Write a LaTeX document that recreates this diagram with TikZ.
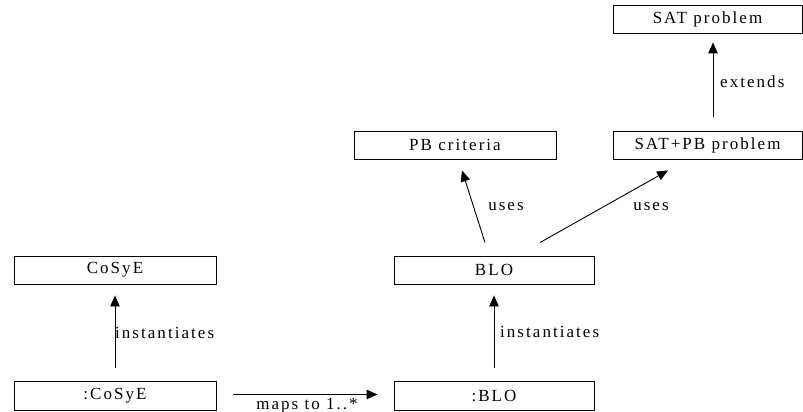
\documentclass[tikz,border=0pt]{standalone}
\usepackage{fontspec}
\setmainfont{Liberation Serif}[LetterSpace=12]
\usetikzlibrary{arrows.meta}
\begin{document}
\begin{tikzpicture}[x=1pt,y=-1pt,
  box/.style={draw,line width=0.9pt,minimum height=28pt,inner sep=0pt,font=\fontsize{17}{20}\selectfont},
  lbl/.style={inner sep=0pt,font=\fontsize{17}{20}\selectfont},
  conn/.style={line width=0.9pt,-{Triangle[length=11pt,width=9.5pt]}}]
\useasboundingbox (0,0) rectangle (803,412);
\node[box,minimum width=202pt] (cosye) at (115,270) {CoSyE};
\node[box,minimum width=202pt,minimum height=29pt] (icosye) at (115,395.5) {:CoSyE};
\node[box,minimum width=200pt] (blo) at (494,270) {BLO};
\node[box,minimum width=200pt,minimum height=29pt] (iblo) at (494,395.5) {:BLO};
\node[box,minimum width=202pt] (pb) at (455,145) {PB criteria};
\node[box,minimum width=189pt] (satpb) at (707.5,145) {SAT+PB problem};
\node[box,minimum width=189pt] (sat) at (707.5,19) {SAT problem};

\draw[conn,shorten <=13pt,shorten >=11pt] (icosye.north) -- (cosye.south);
\draw[conn,shorten <=13pt,shorten >=11pt] (iblo.north) -- (blo.south);
\draw[conn,shorten <=17pt,shorten >=16pt] ([yshift=1pt]icosye.east) -- ([yshift=1pt]iblo.west);
\draw[conn] ([xshift=-9pt,yshift=13pt]blo.north) -- ([xshift=7pt,yshift=-11pt]pb.south);
\draw[conn] ([xshift=46pt,yshift=13pt]blo.north) -- ([xshift=-39.5pt,yshift=-11pt]satpb.south);
\draw[conn] ([xshift=5.5pt,yshift=14pt]satpb.north) -- ([xshift=5.5pt,yshift=-9pt]sat.south);

\node[lbl,anchor=west] (l1) at (115,333) {instantiates};
\node[lbl,anchor=west] (l2) at (500,332) {instantiates};
\node[lbl,anchor=north] (l3) at (307,398) {maps to 1..*};
\node[lbl] (l4) at (506,207) {uses};
\node[lbl] (l5) at (651,207) {uses};
\node[lbl,anchor=west] (l6) at (720,82) {extends};
\end{tikzpicture}
\end{document}
